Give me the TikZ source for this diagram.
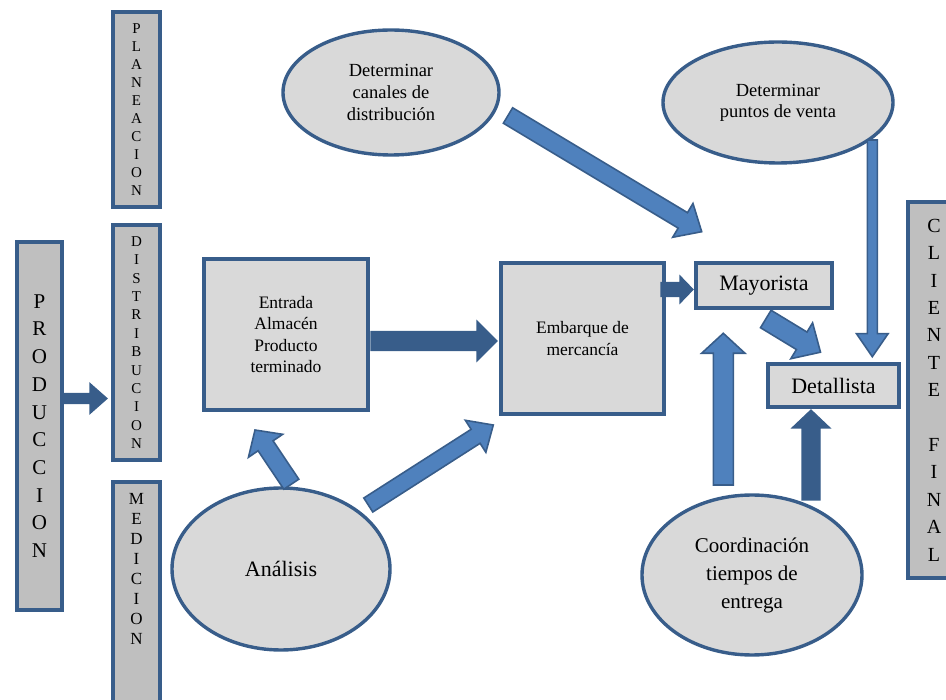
\documentclass[tikz,border=0pt]{standalone}
\usepackage{fontspec}
\setmainfont{Liberation Serif}
\usetikzlibrary{shapes.geometric,calc}
\definecolor{borderblue}{RGB}{56,93,138}
\definecolor{arrowblue}{RGB}{79,129,189}
\definecolor{boxgray}{RGB}{217,217,217}
\definecolor{bargray}{RGB}{191,191,191}

% block arrow: [style]{tail}{tip}{shaft half width}{head half width}{head length}
\newcommand{\blockarrow}[6][]{%
  \coordinate (ba-base) at ($(#3)!#6pt!(#2)$);
  \draw[#1] ($(#2)!#4pt!90:(#3)$) -- ($(ba-base)!#4pt!90:(#3)$) -- ($(ba-base)!#5pt!90:(#3)$)
    -- (#3) -- ($(ba-base)!#5pt!-90:(#3)$) -- ($(ba-base)!#4pt!-90:(#3)$) -- ($(#2)!#4pt!-90:(#3)$) -- cycle;
}

\begin{document}
\begin{tikzpicture}[x=1pt,y=-1pt]
    % Define styles
    \tikzstyle{stagebar} = [rectangle, draw=borderblue, line width=3.4pt, fill=bargray, inner sep=0pt, align=center]
    \tikzstyle{stagebox} = [rectangle, draw=borderblue, line width=3.4pt, fill=boxgray, inner sep=0pt, align=center]
    \tikzstyle{stageoval} = [ellipse, draw=borderblue, line width=3.4pt, fill=boxgray, inner sep=0pt, align=center]
    \tikzstyle{lightarrow} = [draw=borderblue, line width=1.6pt, fill=arrowblue]
    \tikzstyle{darkarrow} = [draw=borderblue, line width=1.2pt, fill=borderblue]

    \useasboundingbox (0,0) rectangle (946,700);

    % Vertical bars
    \node (produccion) [stagebar, minimum width=45, minimum height=368, font=\rmfamily\fontsize{21}{27.7}\selectfont] at (39.5,426) {P\\R\\O\\D\\U\\C\\C\\I\\O\\N};
    \node (planeacion) [stagebar, minimum width=47, minimum height=195, font=\rmfamily\fontsize{15}{18}\selectfont] at (136.5,109.5) {P\\L\\A\\N\\E\\A\\C\\I\\O\\N};
    \node (distribucion) [stagebar, minimum width=47, minimum height=235, font=\rmfamily\fontsize{15}{18.4}\selectfont] at (136.5,342.5) {D\\I\\S\\T\\R\\I\\B\\U\\C\\I\\O\\N};
    \node (medicion) [stagebar, minimum width=47, minimum height=240, label={[anchor=north, yshift=-10pt, align=center, font=\rmfamily\fontsize{17}{20}\selectfont]north:M\\E\\D\\I\\C\\I\\O\\N}] at (136.5,602) {};
    \node (cliente) [stagebar, minimum width=52, minimum height=376, font=\rmfamily\fontsize{20}{27.4}\selectfont] at (934,390) {C\\L\\I\\E\\N\\T\\E\\~\\F\\I\\N\\A\\L};

    % Boxes
    \node (entrada) [stagebox, minimum width=164, minimum height=151, font=\rmfamily\fontsize{17.5}{21.5}\selectfont] at (286,334.5) {Entrada\\Almacén\\Producto\\terminado};
    \node (embarque) [stagebox, minimum width=163, minimum height=151, font=\rmfamily\fontsize{17.5}{22}\selectfont] at (582.5,338.5) {Embarque de\\mercancía};
    \node (mayorista) [stagebox, minimum width=136, minimum height=45, font=\rmfamily\fontsize{22}{25}\selectfont] at (764,285.5) {Mayorista};
    \node (detallista) [stagebox, minimum width=131, minimum height=43, font=\rmfamily\fontsize{22}{25}\selectfont] at (833.5,385.5) {Detallista};

    % Ellipses
    \node (canales) [stageoval, minimum width=216, minimum height=125, font=\rmfamily\fontsize{18.5}{22}\selectfont] at (391,92.5) {Determinar\\canales de\\distribución};
    \node (puntos) [stageoval, minimum width=230, minimum height=121, font=\rmfamily\fontsize{18.5}{21}\selectfont] at (778,102.5) {Determinar\\puntos de venta};
    \node (analisis) [stageoval, minimum width=218, minimum height=162, font=\rmfamily\fontsize{22}{25}\selectfont] at (281,569) {Análisis};
    \node (coordinacion) [stageoval, minimum width=220, minimum height=160, font=\rmfamily\fontsize{21}{28}\selectfont] at (752,575) {Coordinación\\tiempos de\\entrega};

    % Arrow ends
    \coordinate (prod-out) at (62,398.5);
    \coordinate (dist-in) at (107,398.5);
    \coordinate (entrada-out) at (371,341);
    \coordinate (embarque-in) at (497,341);
    \coordinate (embarque-out) at (661,289.5);
    \coordinate (mayorista-in) at (693,289.5);
    \coordinate (canales-out) at (508,115.5);
    \coordinate (mayorista-top) at (701.7,231.7);
    \coordinate (puntos-out) at (872.3,140);
    \coordinate (detallista-top) at (872.3,356.7);
    \coordinate (mayorista-out) at (765.8,319);
    \coordinate (detallista-in) at (820.5,352.2);
    \coordinate (analisis-up) at (291.3,484.2);
    \coordinate (entrada-in) at (255,430);
    \coordinate (analisis-right) at (368.3,505);
    \coordinate (embarque-low) at (493.3,425);
    \coordinate (coord-left) at (723.3,485);
    \coordinate (mayorista-low) at (723.3,333.3);
    \coordinate (coord-right) at (811,500);
    \coordinate (detallista-low) at (811,410);

    % Flows
    \blockarrow[darkarrow]{prod-out}{dist-in}{5}{15}{17}
    \blockarrow[darkarrow]{entrada-out}{embarque-in}{9.5}{20}{20}
    \blockarrow[darkarrow]{embarque-out}{mayorista-in}{7}{13.5}{13}
    \blockarrow[lightarrow]{canales-out}{mayorista-top}{9}{19.7}{22}
    \blockarrow[lightarrow]{puntos-out}{detallista-top}{5}{15.8}{23}
    \blockarrow[lightarrow]{mayorista-out}{detallista-in}{10.2}{21}{22}
    \blockarrow[lightarrow]{analisis-up}{entrada-in}{9}{20.6}{19}
    \blockarrow[lightarrow]{analisis-right}{embarque-low}{8.3}{19}{21}
    \blockarrow[lightarrow]{coord-left}{mayorista-low}{10}{21.7}{20}
    \blockarrow[darkarrow]{coord-right}{detallista-low}{9}{19}{18}
\end{tikzpicture}
\end{document}
